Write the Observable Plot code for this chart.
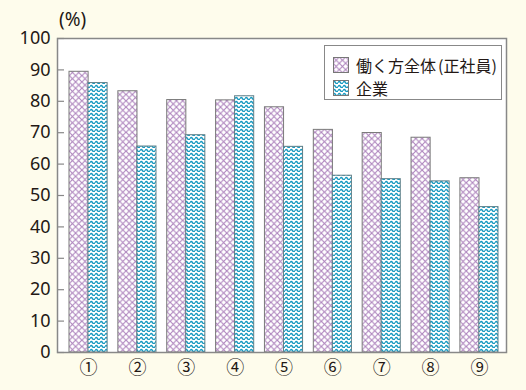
<!DOCTYPE html>
<html>
<head>
<meta charset="utf-8">
<script src="https://cdn.jsdelivr.net/npm/d3@7"></script>
<script src="https://cdn.jsdelivr.net/npm/@observablehq/plot@0.6"></script>
<style>
  html, body { margin: 0; padding: 0; background: #fefcec; }
  #wrap { position: relative; width: 526px; height: 390px; }
  #unit { position: absolute; left: 59px; top: 6px; font: 19px "Noto Sans", sans-serif; color: #231815; }
  #legend { position: absolute; left: 324px; top: 45px; width: 176px; height: 53px; background: #fff;
            border: 1.5px solid #888; font: 16px "Noto Sans CJK JP", sans-serif; color: #231815; white-space: nowrap; }
  .item { position: absolute; left: 8px; display: flex; align-items: center; }
  .item svg { margin-right: 7px; }
</style>
</head>
<body>
<svg width="0" height="0" style="position:absolute">
  <defs>
    <pattern id="cross" patternUnits="userSpaceOnUse" width="6.3" height="6.3">
      <rect width="6.3" height="6.3" fill="#fff"/>
      <path d="M0,0L6.3,6.3M6.3,0L0,6.3" stroke="#ad83bd" stroke-width="1.1" fill="none"/>
    </pattern>
    <pattern id="wave" patternUnits="userSpaceOnUse" width="5" height="4">
      <rect width="5" height="4" fill="#fff"/>
      <path d="M0,2.6 Q1.25,0.4 2.5,2.6 T5,2.6" stroke="#1799c0" stroke-width="1.4" fill="none"/>
    </pattern>
  </defs>
</svg>
<div id="wrap">
  <div id="unit">(%)</div>
  <div id="chart"></div>
  <div id="legend">
    <div class="item" style="top:7px"><svg width="16" height="16"><rect x="0.5" y="0.5" width="15" height="15" fill="url(#cross)" stroke="#777"/></svg>働く方全体<span style="margin-left:2px">(正社員)</span></div>
    <div class="item" style="top:30px"><svg width="16" height="16"><rect x="0.5" y="0.5" width="15" height="15" fill="url(#wave)" stroke="#777"/></svg>企業</div>
  </div>
</div>
<script>
const categories = ["①", "②", "③", "④", "⑤", "⑥", "⑦", "⑧", "⑨"];
const fullTime = [89.4, 83.2, 80.4, 80.3, 78.1, 70.9, 69.9, 68.4, 55.5];
const company  = [85.8, 65.6, 69.2, 81.6, 65.5, 56.3, 55.2, 54.5, 46.3];
const yTicks = [0, 10, 20, 30, 40, 50, 60, 70, 80, 90, 100];

const rowsA = categories.map((c, i) => ({cat: c, v: fullTime[i]}));
const rowsB = categories.map((c, i) => ({cat: c, v: company[i]}));

const plot = Plot.plot({
  width: 526,
  height: 390,
  marginLeft: 57,
  marginRight: 20,
  marginTop: 38,
  marginBottom: 38,
  style: {background: "transparent", color: "#231815"},
  x: {type: "band", domain: categories, paddingInner: 0.22, paddingOuter: 0, round: false, insetLeft: 12, insetRight: 8, label: null},
  y: {domain: [0, 100], label: null},
  marks: [
    Plot.frame({fill: "#fff", stroke: "none"}),
    Plot.barY(rowsA, {x: "cat", y: "v", fill: "url(#cross)", stroke: "#7a7a7a", strokeWidth: 1, insetRight: 19}),
    Plot.barY(rowsB, {x: "cat", y: "v", fill: "url(#wave)", stroke: "#5f7f88", strokeWidth: 1, insetLeft: 19}),
    Plot.tickY(yTicks, {y: d => d, stroke: "#888", strokeWidth: 1.2, insetRight: 442}),
    Plot.axisY({ticks: yTicks, tickSize: 0, tickPadding: 7, fontSize: 18, fontFamily: "Noto Sans", label: null}),
    Plot.axisX({tickSize: 0, tickPadding: 9, fontSize: 18, fontFamily: "Noto Sans CJK JP", label: null}),
    Plot.frame({stroke: "#888", strokeWidth: 1.5})
  ]
});
document.getElementById("chart").appendChild(plot);
</script>
</body>
</html>
